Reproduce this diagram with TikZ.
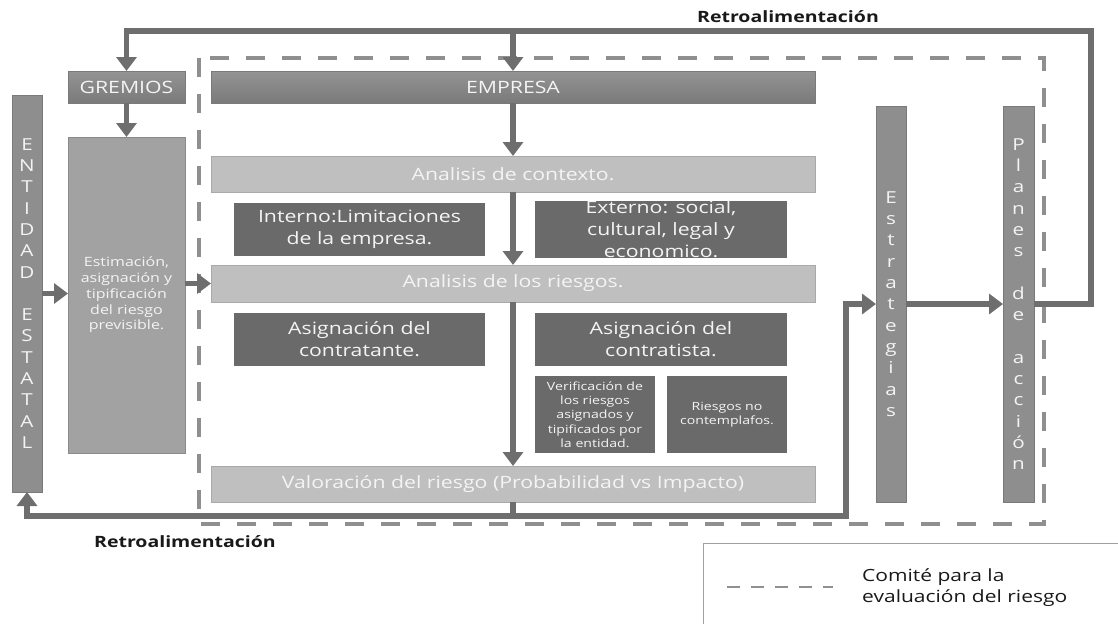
\documentclass[tikz,border=0pt]{standalone}
\usepackage{fontspec}
\setmainfont{Open Sans}[FakeStretch=1.25]
\usetikzlibrary{arrows.meta}
\definecolor{cConn}{HTML}{6E6E6E}
\definecolor{cLight}{HTML}{BFBFBF}
\definecolor{cLightB}{HTML}{A9A9A9}
\definecolor{cDark}{HTML}{6A6A6A}
\definecolor{cMid}{HTML}{8E8E8E}
\definecolor{cMidB}{HTML}{7A7A7A}
\definecolor{cEst}{HTML}{A2A2A2}
\definecolor{cDash}{HTML}{8F8F8F}
\definecolor{cLeg}{HTML}{A0A0A0}
\definecolor{cTxt}{HTML}{F4F4F4}
\newcommand{\myfs}[2]{\fontsize{#1}{#2}\selectfont}
\begin{document}
\begin{tikzpicture}[x=1pt,y=-1pt,
  box/.style={inner sep=0pt, outer sep=0pt, text=cTxt, align=center, font=\myfs{17}{22}},
  lightbar/.style={box, fill=cLight, draw=cLightB, line width=0.8pt},
  darkbox/.style={box, fill=cDark},
  gradbox/.style={box, top color=cMid!95!white, bottom color=cMidB, draw=cMidB, line width=0.6pt},
  vbar/.style={box, fill=cMid, draw=cMidB, line width=0.8pt, font=\myfs{16.5}{21.3}},
  connline/.style={draw=cConn, line width=5.5pt},
  conn/.style={connline, -{Triangle[width=20pt,length=14pt]}},
  dashbox/.style={draw=cDash, line width=3.5pt, dash pattern=on 19pt off 17pt},
  legline/.style={draw=cLeg, line width=1.2pt},
  legdash/.style={draw=cLeg!90!black, line width=2.5pt, dash pattern=on 13pt off 11pt},
  retro/.style={inner sep=0pt, font=\bfseries\myfs{15.6}{19}, text=black!90}
]
\useasboundingbox (0,0) rectangle (1118,624);

% dashed committee box
\draw[dashbox] (199,58) rectangle (1044,524);

% nodes
\node[vbar, minimum width=30pt, minimum height=397pt] (entidad) at (27,293.5)
  {E\\N\\T\\I\\D\\A\\D\\\mbox{}\\E\\S\\T\\A\\T\\A\\L};
\node[gradbox, minimum width=117pt, minimum height=32pt] (gremios) at (126.5,87) {GREMIOS};
\node[box, fill=cEst, draw=cEst!85!black, line width=0.6pt, minimum width=117pt, minimum height=316pt,
  font=\myfs{12.8}{15.7}] (estim) at (126.5,295)
  {Estimación,\\asignación y\\tipificación\\del riesgo\\previsible.};
\node[gradbox, minimum width=604pt, minimum height=32pt] (empresa) at (513,87) {EMPRESA};
\node[lightbar, minimum width=604pt, minimum height=36pt] (contexto) at (513,174) {Analisis de contexto.};
\node[darkbox, minimum width=251pt, minimum height=53pt] (interno) at (359.5,229.5)
  {Interno:Limitaciones\\de la empresa.};
\node[darkbox, minimum width=252pt, minimum height=53pt] (externo) at (661,229.5)
  {Externo: social,\\cultural, legal y\\economico.};
\node[lightbar, minimum width=604pt, minimum height=37pt] (riesgos) at (513,283.5) {Analisis de los riesgos.};
\node[darkbox, minimum width=251pt, minimum height=53pt] (contratante) at (359.5,339.5)
  {Asignación del\\contratante.};
\node[darkbox, minimum width=252pt, minimum height=53pt] (contratista) at (661,339.5)
  {Asignación del\\contratista.};
\node[darkbox, minimum width=120pt, minimum height=77pt, font=\myfs{11.3}{14.3}] (verif) at (595,414.5)
  {Verificación de\\los riesgos\\asignados y\\tipificados por\\la entidad.};
\node[darkbox, minimum width=120pt, minimum height=77pt, font=\myfs{11.3}{14.3}] (nocont) at (727,414.5)
  {Riesgos no\\contemplafos.};
\node[lightbar, minimum width=604pt, minimum height=36pt] (valor) at (513,484)
  {Valoración del riesgo (Probabilidad vs Impacto)};
\node[vbar, minimum width=30pt, minimum height=396pt] (estr) at (891,304)
  {E\\s\\t\\r\\a\\t\\e\\g\\i\\a\\s};
\node[vbar, minimum width=31pt, minimum height=396pt] (planes) at (1018.5,304)
  {P\\l\\a\\n\\e\\s\\\mbox{}\\d\\e\\\mbox{}\\a\\c\\c\\i\\ó\\n};

% connector junctions
\coordinate (tr) at (1091,31);
\coordinate (jb) at (513,516);
\coordinate (jr) at (846,516);

% connectors
\draw[conn] (planes.east) -| (tr) -| (gremios.north);
\draw[conn] (empresa.north |- tr) -- (empresa.north);
\draw[conn] (gremios.south) -- (estim.north);
\draw[conn] (entidad.east) -- (estim.west |- entidad.east);
\draw[conn] (estim.east |- riesgos.west) -- (riesgos.west);
\draw[conn] (empresa.south) -- (contexto.north);
\draw[conn] (contexto.south) -- (riesgos.north);
\draw[conn] (riesgos.south) -- (valor.north);
\draw[connline] (valor.south) -- (jb);
\draw[conn] (jb) -| (entidad.south);
\draw[conn] (jb) -- (jr) |- (estr.west);
\draw[conn] (estr.east) -- (planes.west);

% labels
\node[retro] (retroTop) at (788,17) {Retroalimentación};
\node[retro] (retroBot) at (185,542) {Retroalimentación};

% legend
\draw[legline] (703.5,624) -- (703.5,543.5) -- (1118,543.5);
\draw[legdash] (727,587) -- (833,587);
\node[inner sep=0pt, anchor=west, align=left, font=\myfs{16.8}{21}, text=black!90] (legtext) at (862,588)
  {Comité para la\\evaluación del riesgo};
\end{tikzpicture}
\end{document}
